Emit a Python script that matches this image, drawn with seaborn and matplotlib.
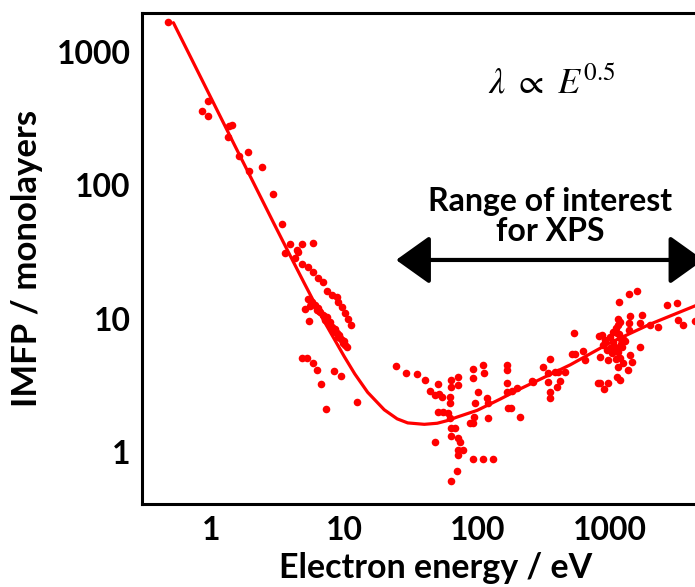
import numpy as np
import pandas as pd
import matplotlib
matplotlib.use("Agg")
import matplotlib.pyplot as plt
import seaborn as sns

# ---------------- data ----------------
# universal curve (energy in eV, IMFP in monolayers)
curve_energy = [0.52, 0.7, 1, 1.5, 2, 3, 4, 5, 7, 10, 12, 15, 20, 25, 30, 40, 50,
                60, 70, 100, 150, 200, 500, 1000, 2000, 5000]
curve_imfp = [1660, 918, 450, 200, 113, 50.4, 28.6, 18.5, 9.7, 5.2, 3.85, 2.8, 2.07,
              1.77, 1.65, 1.61, 1.64, 1.72, 1.82, 2.05, 2.5, 2.9, 4.5, 6.6, 9.1, 13.2]

# measured points: low-energy branch
pts_low_energy = [0.475, 0.95, 0.855, 0.95, 1.44, 1.37, 1.34, 1.62, 1.90, 1.93, 2.42,
                  2.93, 3.42, 3.93, 4.83, 5.85, 3.60, 4.43, 4.51, 4.28, 4.83, 5.36,
                  5.85, 6.38, 6.95, 7.45, 8.12, 8.86, 9.01, 9.66, 10.2, 10.7, 11.3]
pts_low_imfp = [1680, 428, 360, 330, 283, 278, 230, 165, 177, 127, 137,
                85.6, 50.9, 36.0, 36.0, 37.2, 30.8, 33.0, 31.4, 28.7, 25.9, 24.2,
                22.2, 20.3, 18.7, 16.0, 15.1, 14.6, 13.4, 12.3, 11.1, 10.0, 9.01]

# dense band around 5-11 eV and scattered points below it
pts_band_energy = [5.36, 5.74, 6.05, 6.38, 6.60, 6.95, 7.45, 7.58, 8.12, 8.26, 8.86,
                   9.01, 9.66, 9.83, 10.5, 6.27, 7.20, 8.56, 9.33, 10.2, 5.09, 5.46,
                   5.6, 6.2, 7.0, 7.8, 8.5, 9.2, 10.0, 6.5, 5.5,
                   4.83, 5.27, 5.85, 6.27, 8.41, 9.49, 6.72, 7.32, 12.5]
pts_band_imfp = [14.1, 13.4, 12.7, 12.1, 11.3, 10.7, 10.2, 9.33, 8.71, 8.26, 7.85,
                 7.32, 6.95, 6.60, 6.16, 11.7, 9.83, 8.0, 7.2, 6.38, 11.9, 9.66,
                 13.0, 12.0, 10.5, 9.5, 8.3, 7.5, 6.8, 11.5, 12.4,
                 5.09, 5.09, 4.67, 4.14, 4.06, 3.73, 3.25, 2.11, 2.38]

# points around the minimum (20-200 eV)
pts_mid_energy = [24.6, 29.2, 35.4, 40.6, 50.9, 44.3, 48.3, 51.8, 54.6, 63.8, 71.9,
                  63.8, 71.9, 62.7, 62.7, 50.9, 55.5, 60.5, 62.7, 63.8, 68.4, 63.8,
                  71.9, 74.5, 48.3, 71.9, 78.5, 71.9, 93.3, 111, 132, 70.8, 63.8,
                  93.3, 111, 113, 93.3, 102, 96.6, 119, 121, 94.9, 93.3, 88.6, 121,
                  168, 168, 168, 168, 171]
pts_mid_imfp = [4.43, 3.93, 3.86, 3.48, 3.25, 2.88, 2.68, 2.73, 2.59, 3.48, 3.66,
                3.08, 3.19, 2.59, 2.34, 2.00, 2.00, 1.97, 1.80, 1.51, 1.51, 1.32,
                1.27, 1.19, 1.19, 1.04, 1.04, 0.95, 0.89, 0.89, 0.89, 0.72, 0.605,
                4.21, 4.51, 3.93, 3.60, 2.83, 2.34, 2.55, 2.34, 1.83, 1.65, 1.65, 1.80,
                4.51, 4.14, 3.30, 2.83, 2.14]

# points at high energy (200-4500 eV)
pts_high_energy = [536, 183, 200, 259, 264, 314, 354, 342, 386, 406, 342, 354, 354,
                   400, 421, 459, 518, 546, 627, 649, 813, 180, 210, 827,
                   1390, 1596, 1169, 2685, 3190, 3243, 3540, 1148, 1189, 1413, 1390,
                   1742, 1683, 2000, 2296, 1390,
                   871, 916, 1000, 1054, 1130, 1189, 1091, 1148, 1231, 1035, 949, 885,
                   841, 966, 1189, 1253, 1148, 1413, 1463, 1683, 1365, 1130, 1189,
                   841, 966, 901, 1100, 1150, 1050, 1200, 1100, 1000, 1250, 1300, 1160,
                   4300]
pts_high_imfp = [7.85, 2.88, 3.03, 3.42, 3.36, 4.36, 5.0, 3.93, 4.0, 4.0, 3.36, 2.83,
                 2.55, 3.08, 3.42, 4.0, 5.46, 5.46, 5.74, 4.92, 3.30, 2.14, 1.83, 7.45,
                 15.4, 16.0, 13.4, 12.7, 13.2, 9.83, 9.01, 10.0, 9.5, 10.4, 9.33,
                 10.7, 9.33, 9.01, 8.71, 8.26,
                 7.58, 6.95, 7.32, 6.72, 7.85, 7.20, 6.16, 5.65, 6.16, 5.55, 5.85, 6.38,
                 5.18, 4.92, 5.09, 4.67, 4.36, 5.36, 4.75, 6.16, 4.14, 3.66, 3.48,
                 3.30, 3.30, 2.98, 8.5, 9.0, 8.0, 6.5, 5.0, 6.0, 7.0, 6.8, 7.6,
                 9.6]

x_ticks = [1, 10, 100, 1000]
x_tick_labels = ["1", "10", "100", "1000"]
y_ticks = [1, 10, 100, 1000]
y_tick_labels = ["1", "10", "100", "1000"]

# ---------------- figure ----------------
sns.set_style("white")
plt.rcParams["font.family"] = ["Lato", "DejaVu Sans"]
plt.rcParams["mathtext.fontset"] = "stix"
plt.rcParams["text.color"] = "black"
plt.rcParams["axes.labelcolor"] = "black"
plt.rcParams["xtick.color"] = "black"
plt.rcParams["ytick.color"] = "black"

W, H = 695, 587
fig = plt.figure(figsize=(W / 100, H / 100), dpi=100)
ax = fig.add_axes([142 / W, 1 - 504 / H, (730 - 142) / W, (504 - 13) / H])
ax.set_xscale("log")
ax.set_yscale("log")

pts = pd.DataFrame({
    "energy": pts_low_energy + pts_band_energy + pts_mid_energy + pts_high_energy,
    "imfp": pts_low_imfp + pts_band_imfp + pts_mid_imfp + pts_high_imfp,
})
curve = pd.DataFrame({"energy": curve_energy, "imfp": curve_imfp})

sns.scatterplot(data=pts, x="energy", y="imfp", ax=ax, color="#ff0000",
                s=30, linewidth=0, zorder=3)
sns.lineplot(data=curve, x="energy", y="imfp", ax=ax, color="#ff0000",
             linewidth=2.3, estimator=None, sort=True, zorder=4)

ax.set_xlim(10 ** -0.52, 10 ** 3.90)
ax.set_ylim(10 ** -0.391, 10 ** 3.293)

ax.set_xticks(x_ticks)
ax.set_xticklabels(x_tick_labels)
ax.set_yticks(y_ticks)
ax.set_yticklabels(y_tick_labels)
ax.minorticks_off()
ax.tick_params(axis="x", direction="in", length=12, width=1.6, pad=9,
               labelsize=23, colors="black")
ax.tick_params(axis="y", direction="in", length=7, width=1.6, pad=8,
               labelsize=23, colors="black")
for lab in ax.get_xticklabels() + ax.get_yticklabels():
    lab.set_fontweight("bold")

for side in ["left", "bottom", "top"]:
    ax.spines[side].set_visible(True)
    ax.spines[side].set_linewidth(2.2)
    ax.spines[side].set_color("black")
ax.spines["right"].set_visible(False)

ax.set_xlabel("Electron energy / eV", fontsize=24.5, fontweight="bold", labelpad=4.5,
              color="black")
ax.set_ylabel("IMFP / monolayers", fontsize=25, fontweight="bold", labelpad=10,
              color="black")

# annotations
ax.text(10 ** 2.56, 10 ** 2.775, r"$\lambda\ \propto\ E^{0.5}$", fontsize=26,
        ha="center", va="center", color="black")
ax.text(10 ** 2.55, 10 ** 1.765, "Range of interest\nfor XPS", fontsize=23,
        fontweight="bold", ha="center", va="center", linespacing=1.05,
        color="black")
ax.annotate("", xy=(10 ** 3.70, 10 ** 1.44), xytext=(10 ** 1.39, 10 ** 1.44),
            arrowprops=dict(arrowstyle="<|-|>,head_length=2.1,head_width=1.5",
                            mutation_scale=10, lw=3, color="black",
                            shrinkA=0, shrinkB=0),
            annotation_clip=False)

fig.savefig("out.png", dpi=100)
